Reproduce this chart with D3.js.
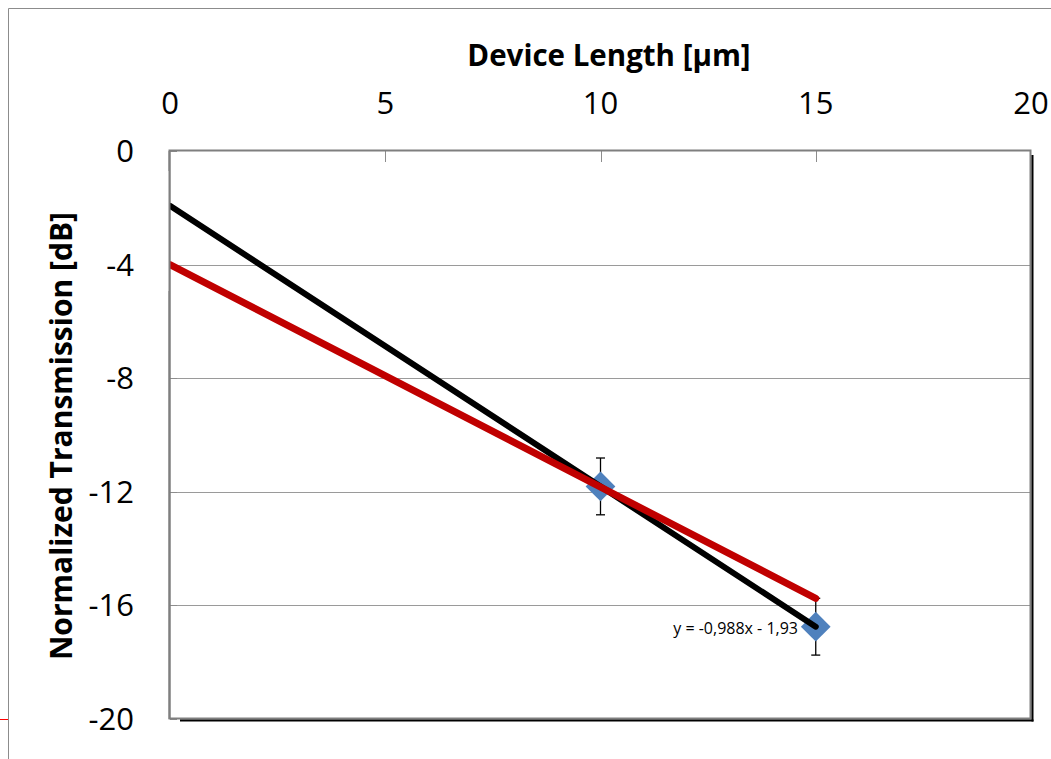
<!DOCTYPE html>
<html>
<head>
<meta charset="utf-8">
<script src="https://cdn.jsdelivr.net/npm/d3@7"></script>
<style>
  html, body { margin: 0; padding: 0; background: #fff; }
  svg { display: block; }
  text { font-family: "Open Sans", "DejaVu Sans", sans-serif; fill: #000; }
</style>
</head>
<body>
<script>
// ---- data ----
const lengths = [10, 15];
const transmission = [-11.81, -16.75];
const errorBars = [1.0, 1.0];
const fitX = [0, 15];
const blackFitY = [-1.93, -16.75];
const redFitY = [-4.0, -15.75];
const xTicks = [0, 5, 10, 15, 20];
const yTicks = [0, -4, -8, -12, -16, -20];
const trendLabel = "y = -0,988x - 1,93";
const xTitle = "Device Length [\u03BCm]";
const yTitle = "Normalized Transmission [dB]";

const W = 1051, H = 759;
const plot = { left: 170, top: 151, right: 1031, bottom: 719 };

const svg = d3.select("body").append("svg").attr("width", W).attr("height", H);

const x = d3.scaleLinear().domain([0, 20]).range([plot.left, plot.right]);
const y = d3.scaleLinear().domain([-20, 0]).range([plot.bottom, plot.top]);

// outer frame
svg.append("line").attr("x1", 8.5).attr("x2", W).attr("y1", 8.5).attr("y2", 8.5)
  .attr("stroke", "#8c8c8c").attr("stroke-width", 1);
svg.append("line").attr("x1", 8.5).attr("x2", 8.5).attr("y1", 8.5).attr("y2", H)
  .attr("stroke", "#8c8c8c").attr("stroke-width", 1);
svg.append("line").attr("x1", 0).attr("x2", 8).attr("y1", 719.5).attr("y2", 719.5)
  .attr("stroke", "#ff0000").attr("stroke-width", 1);

// gridlines
svg.append("g").selectAll("line").data(yTicks.filter(d => d !== 0 && d !== -20)).join("line")
  .attr("x1", plot.left).attr("x2", plot.right)
  .attr("y1", d => Math.round(y(d)) + 0.5).attr("y2", d => Math.round(y(d)) + 0.5)
  .attr("stroke", "#9a9a9a").attr("stroke-width", 1);

// top axis ticks (inside)
svg.append("g").selectAll("line").data(xTicks.filter(d => d !== 0 && d !== 20)).join("line")
  .attr("x1", d => Math.round(x(d)) + 0.5).attr("x2", d => Math.round(x(d)) + 0.5)
  .attr("y1", plot.top).attr("y2", plot.top + 11)
  .attr("stroke", "#8c8c8c").attr("stroke-width", 1);

// left axis ticks (inside)
svg.append("g").selectAll("line").data(yTicks).join("line")
  .attr("x1", plot.left).attr("x2", plot.left + 7)
  .attr("y1", d => Math.round(y(d)) + 0.5).attr("y2", d => Math.round(y(d)) + 0.5)
  .attr("stroke", "#8c8c8c").attr("stroke-width", 1);

// plot frame
svg.append("rect").attr("x", plot.left - 0.5).attr("y", plot.top - 0.5)
  .attr("width", plot.right - plot.left).attr("height", plot.bottom - plot.top)
  .attr("fill", "none").attr("stroke", "#7f7f7f").attr("stroke-width", 2);
svg.append("line").attr("x1", plot.right + 1.5).attr("x2", plot.right + 1.5)
  .attr("y1", plot.top + 4).attr("y2", plot.bottom + 2.5)
  .attr("stroke", "#000").attr("stroke-width", 2);
svg.append("line").attr("x1", plot.left + 10).attr("x2", plot.right + 2.5)
  .attr("y1", plot.bottom + 1.5).attr("y2", plot.bottom + 1.5)
  .attr("stroke", "#000").attr("stroke-width", 2);

// tick labels
svg.append("g").selectAll("text").data(xTicks).join("text")
  .attr("x", d => x(d)).attr("y", 114)
  .attr("text-anchor", "middle").attr("font-size", 31)
  .text(d => d);
svg.append("g").selectAll("text").data(yTicks).join("text")
  .attr("x", 134).attr("y", d => y(d) + 11)
  .attr("text-anchor", "end").attr("font-size", 31)
  .text(d => d);

// titles
svg.append("text").attr("x", 609).attr("y", 66)
  .attr("text-anchor", "middle").attr("font-size", 29.5).attr("font-weight", "bold")
  .text(xTitle);
svg.append("text").attr("transform", "translate(72,436) rotate(-90)")
  .attr("text-anchor", "middle").attr("font-size", 30).attr("font-weight", "bold")
  .text(yTitle);

// error bars
const pts = lengths.map((l, i) => ({ x: l, y: transmission[i], e: errorBars[i] }));
const eb = svg.append("g").attr("stroke", "#000").attr("stroke-width", 1.3);
pts.forEach(p => {
  eb.append("line").attr("x1", x(p.x)).attr("x2", x(p.x)).attr("y1", y(p.y + p.e)).attr("y2", y(p.y - p.e));
  eb.append("line").attr("x1", x(p.x) - 4.5).attr("x2", x(p.x) + 4.5).attr("y1", y(p.y + p.e)).attr("y2", y(p.y + p.e));
  eb.append("line").attr("x1", x(p.x) - 4.5).attr("x2", x(p.x) + 4.5).attr("y1", y(p.y - p.e)).attr("y2", y(p.y - p.e));
});

// diamond markers
svg.append("g").selectAll("path").data(pts).join("path")
  .attr("transform", p => `translate(${x(p.x)},${y(p.y)}) rotate(45)`)
  .attr("d", d3.symbol().type(d3.symbolSquare).size(21 * 21))
  .attr("fill", "#4f81bd");

// fit lines
const line = d3.line().x(d => x(d[0])).y(d => y(d[1]));
svg.append("path").datum(fitX.map((v, i) => [v, blackFitY[i]]))
  .attr("d", line).attr("fill", "none").attr("stroke", "#000")
  .attr("stroke-width", 6).attr("stroke-linecap", "round");
svg.append("path").datum(fitX.map((v, i) => [v, redFitY[i]]))
  .attr("d", line).attr("fill", "none").attr("stroke", "#c00000")
  .attr("stroke-width", 7).attr("stroke-linecap", "round");

// cover line caps left of the axis
svg.append("line").attr("x1", plot.left - 5).attr("x2", plot.left - 5)
  .attr("y1", plot.top + 20).attr("y2", plot.top + 140)
  .attr("stroke", "#fff").attr("stroke-width", 9);
svg.append("line").attr("x1", plot.left - 0.5).attr("x2", plot.left - 0.5)
  .attr("y1", plot.top).attr("y2", plot.bottom)
  .attr("stroke", "#7f7f7f").attr("stroke-width", 2);

// trendline label
svg.append("text").attr("x", 798).attr("y", 634)
  .attr("text-anchor", "end").attr("font-size", 16)
  .text(trendLabel);
</script>
</body>
</html>
